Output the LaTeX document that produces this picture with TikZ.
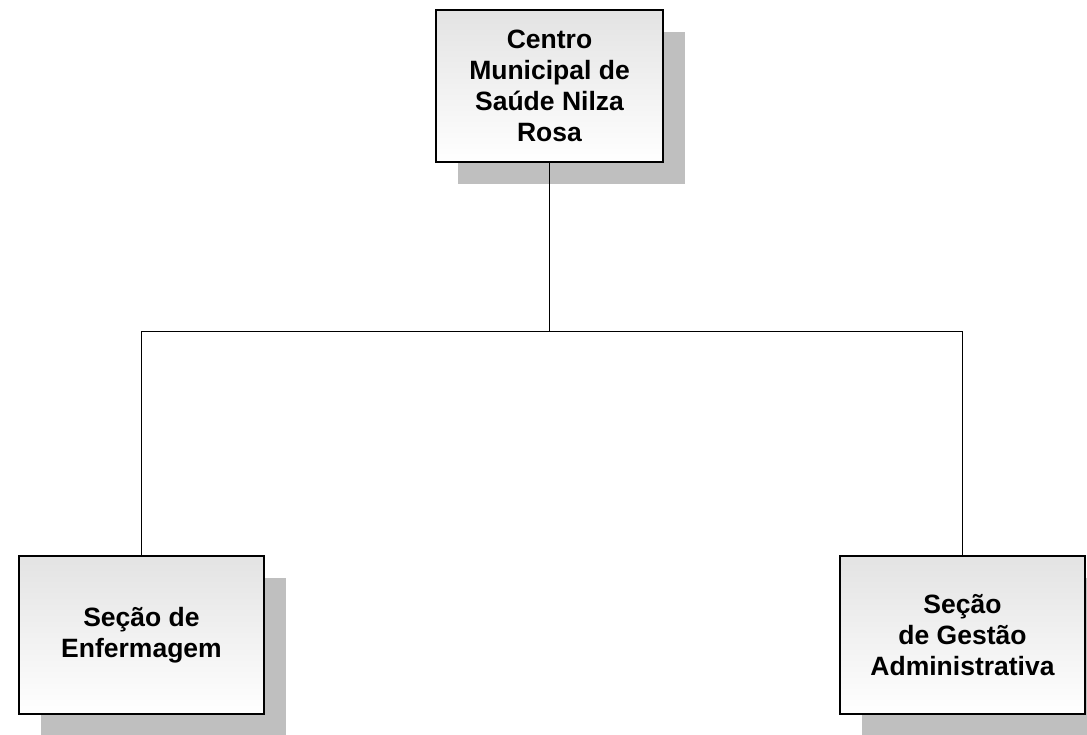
\documentclass[tikz,border=0pt]{standalone}
\usepackage{fontspec}
\setmainfont{Liberation Sans}
\usetikzlibrary{shadows}

\begin{document}
\begin{tikzpicture}[
                    x=1pt, y=-1pt,
                    unidade/.style={draw, rectangle, line width=2pt, align=center,
                                    font=\bfseries\fontsize{26.5}{31}\selectfont,
                                    top color=black!11, bottom color=white,
                                    drop shadow={shadow xshift=22pt, shadow yshift=-22pt, fill=black!25, opacity=1}},
                    ligacao/.style={draw, line width=1pt}
                    ]

                    \useasboundingbox (0,0) rectangle (1087,734);

                    \node [unidade, minimum width=227pt, minimum height=152pt] (centro) at (549.5,86) {Centro\\Municipal de\\Saúde Nilza\\Rosa};

                    \node [unidade, minimum width=245pt, minimum height=158pt] (enfermagem) at (141.5,635) {Seção de\\Enfermagem};
                    \node [unidade, minimum width=245pt, minimum height=158pt] (gestao) at (962.5,635) {Seção\\de Gestão\\Administrativa};

                    \coordinate (juncao) at (549.5,331);

                    \draw[ligacao] (centro.south) -- (juncao);
                    \draw[ligacao] (enfermagem.north) |- (juncao);
                    \draw[ligacao] (juncao) -| (gestao.north);

\end{tikzpicture}
\end{document}
